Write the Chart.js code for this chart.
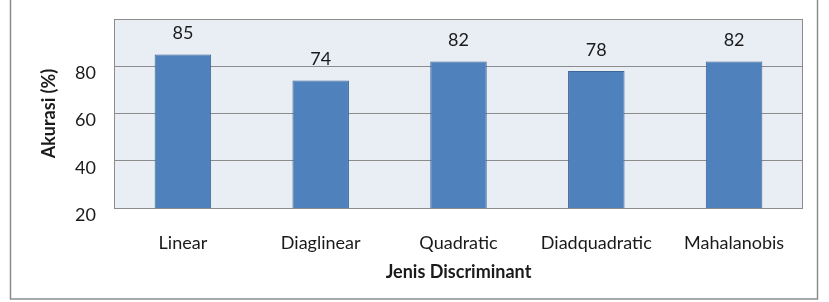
<!DOCTYPE html>
<html>
<head>
<meta charset="utf-8">
<script src="https://cdn.jsdelivr.net/npm/chart.js@4.4.0/dist/chart.umd.min.js"></script>
<style>
    html, body { margin: 0; padding: 0; background: #fff; }
    #wrap { width: 829px; height: 302px; position: relative; }
</style>
</head>
<body>
<div id="wrap"><canvas id="akurasi-chart" width="829" height="302"></canvas></div>
<script>
const categories = ['Linear', 'Diaglinear', 'Quadratic', 'Diadquadratic', 'Mahalanobis'];
const akurasi = [85, 74, 82, 78, 82];
const yTicks = [20, 40, 60, 80];

const FONT = 'Lato, "Open Sans", sans-serif';

// plot background + outer frame
const framePlugin = {
    id: 'frame',
    beforeDraw: chart => {
        const ctx = chart.ctx;
        const a = chart.chartArea;
        ctx.save();
        ctx.fillStyle = '#fff';
        ctx.fillRect(0, 0, chart.width, chart.height);
        ctx.fillStyle = '#e9edf4';
        ctx.fillRect(a.left, a.top, a.right - a.left, a.bottom - a.top);
        ctx.strokeStyle = '#8c8c8c';
        ctx.lineWidth = 1.5;
        ctx.strokeRect(10.5, -2, 807, 301);
        ctx.restore();
    },
    afterDraw: chart => {
        const ctx = chart.ctx;
        const a = chart.chartArea;
        ctx.save();
        ctx.strokeStyle = '#8c8c8c';
        ctx.lineWidth = 1;
        ctx.strokeRect(a.left + 0.5, a.top + 0.5, a.right - a.left - 1, a.bottom - a.top);
        ctx.restore();
    },
};

// numbers above the bars
const valuePlugin = {
    id: 'values',
    afterDatasetsDraw: chart => {
        const ctx = chart.ctx;
        const meta = chart.getDatasetMeta(0);
        ctx.save();
        ctx.font = '18px ' + FONT;
        ctx.fillStyle = '#1a1a1a';
        ctx.textAlign = 'center';
        ctx.textBaseline = 'bottom';
        meta.data.forEach((bar, i) => {
            ctx.fillText(String(akurasi[i]), bar.x, bar.y - 12);
        });
        ctx.restore();
    },
};

new Chart(document.getElementById('akurasi-chart'), {
    type: 'bar',
    data: {
        labels: categories,
        datasets: [{
            data: akurasi,
            backgroundColor: '#4f81bd',
            borderColor: '#3c6798',
            borderWidth: 1,
            barPercentage: 0.41,
            categoryPercentage: 1,
        }],
    },
    options: {
        responsive: false,
        animation: false,
        layout: { padding: { top: 19, right: 26, left: 10, bottom: 8 } },
        plugins: {
            legend: { display: false },
            tooltip: { enabled: false },
        },
        scales: {
            x: {
                grid: { display: false, drawTicks: false },
                border: { display: false },
                ticks: { color: '#1a1a1a', font: { family: FONT, size: 18 }, padding: 24 },
                title: {
                    display: true,
                    text: 'Jenis Discriminant',
                    color: '#1a1a1a',
                    font: { family: FONT, size: 18, weight: 'bold' },
                    padding: { top: 0, bottom: 11 },
                },
                afterFit: scale => {
                    scale.height = 86;
                    scale.paddingLeft = 0;
                    scale.paddingRight = 0;
                },
            },
            y: {
                min: 20,
                max: 100,
                afterBuildTicks: scale => {
                    scale.ticks = yTicks.concat([100]).map(v => ({ value: v }));
                },
                grid: { color: '#8c8c8c', drawTicks: false },
                border: { display: false },
                ticks: {
                    color: '#1a1a1a',
                    font: { family: FONT, size: 18 },
                    padding: 18,
                    labelOffset: 7,
                    callback: v => (yTicks.includes(v) ? v : ''),
                },
                title: {
                    display: true,
                    text: 'Akurasi (%)',
                    color: '#1a1a1a',
                    font: { family: FONT, size: 18, weight: 'bold' },
                    padding: { top: 28, bottom: 0 },
                },
                afterFit: scale => {
                    scale.width = 104;
                    scale.paddingTop = 0;
                    scale.paddingBottom = 0;
                },
            },
        },
    },
    plugins: [framePlugin, valuePlugin],
});
</script>
</body>
</html>
